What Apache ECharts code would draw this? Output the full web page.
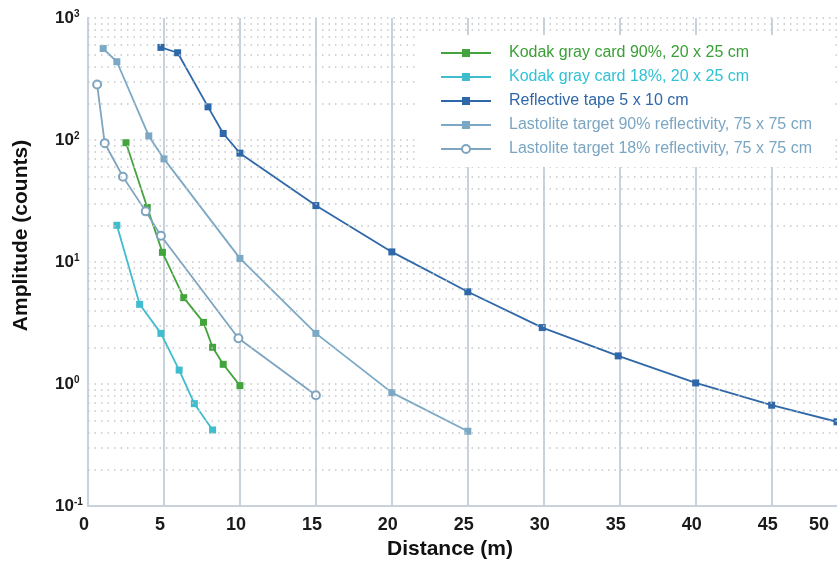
<!DOCTYPE html>
<html>
<head>
<meta charset="utf-8">
<script src="https://cdn.jsdelivr.net/npm/echarts@6/dist/echarts.min.js"></script>
<style>
html,body{margin:0;padding:0;background:#fff;}
#chart{width:837px;height:565px;}
</style>
</head>
<body>
<div id="chart"></div>
<script>
// ---- data ----
var seriesNames = [
  'Kodak gray card 90%, 20 x 25 cm',
  'Kodak gray card 18%, 20 x 25 cm',
  'Reflective tape 5 x 10 cm',
  'Lastolite target 90% reflectivity, 75 x 75 cm',
  'Lastolite target 18% reflectivity, 75 x 75 cm'
];
var kodak90X = [2.5, 3.9, 4.9, 6.3, 7.6, 8.2, 8.9, 10.0];
var kodak90Y = [95, 28, 12, 5.1, 3.2, 2.0, 1.45, 0.97];
var kodak18X = [1.9, 3.4, 4.8, 6.0, 7.0, 8.2];
var kodak18Y = [20, 4.5, 2.6, 1.3, 0.69, 0.42];
var tapeX = [4.8, 5.9, 7.9, 8.9, 10.0, 15.0, 20.0, 25.0, 29.9, 34.9, 40.0, 45.0, 49.3];
var tapeY = [574, 519, 187, 113, 78, 29, 12.1, 5.7, 2.9, 1.70, 1.02, 0.67, 0.49];
var last90X = [1.0, 1.9, 4.0, 5.0, 10.0, 15.0, 20.0, 25.0];
var last90Y = [562, 438, 108, 70, 10.7, 2.6, 0.85, 0.41];
var last18X = [0.6, 1.1, 2.3, 3.8, 4.8, 9.9, 15.0];
var last18Y = [285, 94, 50, 26, 16.4, 2.37, 0.81];
var minorGridValues = [0.2,0.3,0.4,0.5,0.6,0.7,0.8,0.9, 2,3,4,5,6,7,8,9, 20,30,40,50,60,70,80,90, 200,300,400,500,600,700,800,900];
var xMin = 0, xMax = 49.3, xInterval = 5;
var yMin = 0.1, yMax = 1000;

var colors = ['#43a43d', '#3fbccd', '#2f68a8', '#7ba8c5', '#7ea4bf'];
var textColors = ['#3a9f36', '#30c2d4', '#2f68a8', '#7aa6c3', '#7aa6c3'];

function zip(xs, ys){ return xs.map(function(x,i){ return [x, ys[i]]; }); }
var seriesData = [zip(kodak90X,kodak90Y), zip(kodak18X,kodak18Y), zip(tapeX,tapeY), zip(last90X,last90Y), zip(last18X,last18Y)];
var symbols = ['rect','rect','rect','rect','emptyCircle'];

var narrow = '"Liberation Sans Narrow", "Arial Narrow", "Liberation Sans", Arial, sans-serif';
var sans = '"Liberation Sans", Arial, Helvetica, sans-serif';
var dotted = { color: '#c4c7ca', width: 1.5, type: [1.5, 5] };

var series = seriesData.map(function(d, i){
  var hollow = symbols[i] === 'emptyCircle';
  return {
    name: seriesNames[i], type: 'line', data: d, symbol: symbols[i],
    symbolSize: hollow ? 8 : 7,
    showSymbol: true, clip: true, z: 3,
    lineStyle: { color: colors[i], width: 1.8 },
    itemStyle: { color: colors[i], borderWidth: hollow ? 1.6 : 0 },
    emphasis: { disabled: true }, animation: false
  };
});
series.push({
  type: 'line', data: [], z: 1, silent: true, animation: false,
  markLine: { silent: true, symbol: ['none','none'], label: { show: false }, animation: false,
    lineStyle: dotted,
    data: minorGridValues.map(function(v){ return { yAxis: v }; }) }
});

var chart = echarts.init(document.getElementById('chart'), null, { renderer: 'canvas' });
chart.setOption({
  backgroundColor: '#fff',
  animation: false,
  grid: { left: 88, right: 0, top: 18, bottom: 56, containLabel: false },
  legend: {
    orient: 'vertical', left: 418, top: 35, padding: [10, 20, 10, 22],
    backgroundColor: '#fff', itemWidth: 50, itemHeight: 10, itemGap: 8, z: 10,
    textStyle: { fontFamily: sans, fontSize: 16, padding: [0, 0, 0, 13] },
    data: seriesNames.map(function(n, i){ return { name: n, textStyle: { color: textColors[i] } }; })
  },
  xAxis: {
    type: 'value', min: xMin, max: xMax, interval: xInterval,
    name: 'Distance (m)', nameLocation: 'middle', nameGap: 33,
    nameTextStyle: { fontFamily: sans, fontWeight: 'bold', fontSize: 21, color: '#111', padding: [0, 25, 0, 0] },
    axisLine: { show: true, lineStyle: { color: '#c9d2da', width: 2 } },
    axisTick: { show: false },
    axisLabel: { fontFamily: narrow, fontWeight: 'bold', fontSize: 18, color: '#1a1a1a', margin: 10,
      padding: [0, 8, 0, 0], alignMaxLabel: 'right',
      formatter: function(v){ return String(Math.round(v / 5) * 5); } },
    splitLine: { show: true, showMinLine: false, showMaxLine: false, lineStyle: { color: '#c9d2da', width: 2 } }
  },
  yAxis: {
    type: 'log', logBase: 10, min: yMin, max: yMax,
    name: 'Amplitude (counts)', nameLocation: 'middle', nameGap: 56,
    nameTextStyle: { fontFamily: sans, fontWeight: 'bold', fontSize: 21, color: '#111', padding: [0, 0, 0, 53] },
    axisLine: { show: true, lineStyle: { color: '#c9d2da', width: 2 } },
    axisTick: { show: false },
    axisLabel: {
      margin: 33, align: 'left',
      formatter: function(v){ var e = Math.round(Math.log(v) / Math.LN10); return '{b|10}{s|' + e + '}'; },
      rich: {
        b: { fontFamily: narrow, fontWeight: 'bold', fontSize: 17, color: '#1a1a1a', lineHeight: 17 },
        s: { fontFamily: narrow, fontWeight: 'bold', fontSize: 10, color: '#1a1a1a', lineHeight: 10, verticalAlign: 'top' }
      }
    },
    splitLine: { show: true, lineStyle: dotted }
  },
  series: series
});
</script>
</body>
</html>
